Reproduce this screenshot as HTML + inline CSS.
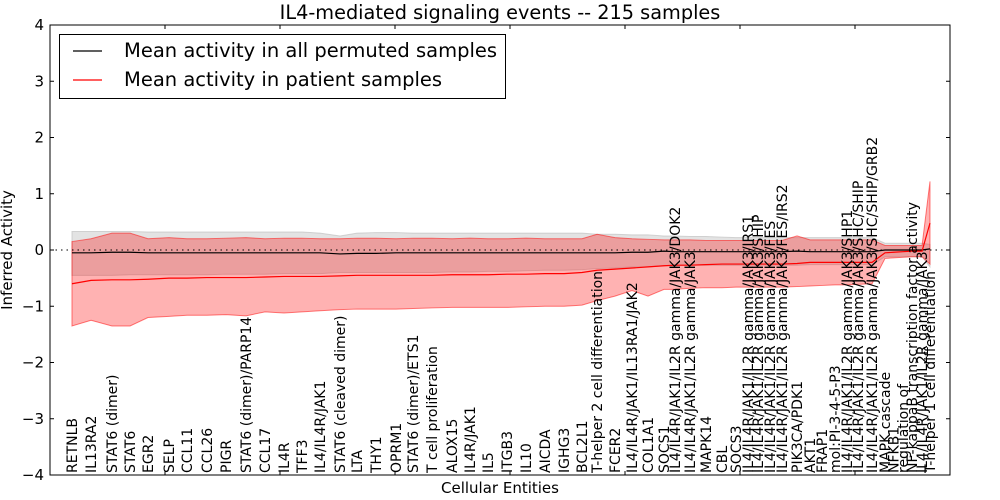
<!DOCTYPE html>
<html><head><meta charset="utf-8"><style>
html,body{margin:0;padding:0;background:#fff;}
svg{display:block;font-family:"DejaVu Sans","Liberation Sans",sans-serif;}
</style></head><body>
<svg id="chart" width="1000" height="500" xmlns="http://www.w3.org/2000/svg"></svg>
<script>
const labels=["RETNLB","IL13RA2","STAT6 (dimer)","STAT6","EGR2","SELP","CCL11","CCL26","PIGR","STAT6 (dimer)/PARP14","CCL17","IL4R","TFF3","IL4/IL4R/JAK1","STAT6 (cleaved dimer)","LTA","THY1","OPRM1","STAT6 (dimer)/ETS1","T cell proliferation","ALOX15","IL4R/JAK1","IL5","ITGB3","IL10","AICDA","IGHG3","BCL2L1","T-helper 2 cell differentiation","FCER2","IL4/IL4R/JAK1/IL13RA1/JAK2","COL1A1","SOCS1","IL4/IL4R/JAK1/IL2R gamma/JAK3/DOK2","IL4/IL4R/JAK1/IL2R gamma/JAK3","MAPK14","CBL","SOCS3","IL4/IL4R/JAK1/IL2R gamma/JAK3/IRS1","IL4/IL4R/JAK1/IL2R gamma/JAK3/SHIP","IL4/IL4R/JAK1/IL2R gamma/JAK3/FES","IL4/IL4R/JAK1/IL2R gamma/JAK3/FES/IRS2","PIK3CA/PDK1","AKT1","FRAP1","mol:PI-3-4-5-P3","IL4/IL4R/JAK1/IL2R gamma/JAK3/SHP1","IL4/IL4R/JAK1/IL2R gamma/JAK3/SHC/SHIP","IL4/IL4R/JAK1/IL2R gamma/JAK3/SHC/SHIP/GRB2","MAPK cascade","NFKB1","regulation of","NF-kappaB transcription factor activity","IL4/IL4R/JAK1/IL2R gamma/JAK3","T-helper 1 cell differentiation"];
const xVals=[1.91,3.57,5.39,6.96,8.52,10.35,11.91,13.65,15.30,17.04,18.70,20.35,21.91,23.48,25.22,26.70,28.35,30.09,31.57,33.22,34.96,36.52,38.09,39.74,41.39,43.04,44.70,46.26,47.57,49.13,50.61,52.00,53.39,54.35,55.65,57.04,58.43,59.65,60.70,61.57,62.61,63.65,64.96,66.09,67.13,68.26,69.30,70.26,71.48,72.61,73.35,74.17,74.96,75.83,76.52];
const permMean=[-0.05,-0.05,-0.04,-0.04,-0.05,-0.05,-0.05,-0.05,-0.05,-0.05,-0.05,-0.05,-0.05,-0.05,-0.07,-0.06,-0.06,-0.05,-0.05,-0.05,-0.05,-0.05,-0.05,-0.05,-0.05,-0.05,-0.05,-0.05,-0.05,-0.05,-0.04,-0.04,-0.02,-0.03,-0.03,-0.03,-0.03,-0.03,-0.03,-0.03,-0.03,-0.03,-0.02,-0.03,-0.03,-0.03,-0.03,-0.03,-0.03,0.0,0.0,0.0,0.0,0.0,0.02];
const permHi=[0.33,0.33,0.33,0.33,0.32,0.32,0.32,0.32,0.32,0.32,0.32,0.32,0.32,0.30,0.25,0.30,0.31,0.31,0.30,0.30,0.30,0.30,0.30,0.30,0.30,0.30,0.30,0.30,0.28,0.28,0.27,0.27,0.25,0.25,0.24,0.24,0.23,0.22,0.22,0.22,0.22,0.22,0.22,0.22,0.22,0.22,0.22,0.22,0.22,0.12,0.12,0.12,0.12,0.12,0.10];
const permLo=[-0.45,-0.45,-0.45,-0.44,-0.44,-0.44,-0.44,-0.44,-0.43,-0.43,-0.43,-0.42,-0.42,-0.42,-0.40,-0.40,-0.40,-0.40,-0.40,-0.40,-0.39,-0.39,-0.38,-0.38,-0.37,-0.36,-0.36,-0.35,-0.33,-0.32,-0.30,-0.30,-0.28,-0.28,-0.27,-0.27,-0.27,-0.27,-0.27,-0.27,-0.27,-0.27,-0.27,-0.26,-0.26,-0.26,-0.26,-0.26,-0.26,-0.12,-0.12,-0.12,-0.12,-0.12,-0.30];
const patMean=[-0.60,-0.54,-0.53,-0.53,-0.52,-0.50,-0.50,-0.49,-0.49,-0.49,-0.48,-0.47,-0.47,-0.47,-0.46,-0.45,-0.45,-0.45,-0.45,-0.45,-0.44,-0.44,-0.44,-0.43,-0.43,-0.42,-0.42,-0.40,-0.36,-0.34,-0.32,-0.30,-0.28,-0.27,-0.27,-0.26,-0.25,-0.25,-0.25,-0.25,-0.25,-0.25,-0.24,-0.22,-0.22,-0.22,-0.22,-0.22,-0.22,-0.05,-0.04,-0.03,-0.02,-0.02,0.48];
const patHi=[0.15,0.20,0.30,0.30,0.20,0.22,0.20,0.20,0.21,0.22,0.20,0.21,0.21,0.20,0.20,0.21,0.21,0.20,0.21,0.21,0.20,0.21,0.20,0.20,0.21,0.20,0.20,0.20,0.28,0.22,0.20,0.19,0.18,0.18,0.18,0.17,0.17,0.17,0.17,0.17,0.17,0.17,0.25,0.18,0.18,0.18,0.18,0.18,0.18,0.08,0.08,0.08,0.08,0.08,1.22];
const patLo=[-1.35,-1.25,-1.35,-1.35,-1.20,-1.18,-1.16,-1.16,-1.15,-1.17,-1.10,-1.12,-1.10,-1.08,-1.06,-1.05,-1.05,-1.05,-1.04,-1.03,-1.02,-1.02,-1.02,-1.02,-1.01,-1.00,-1.00,-0.98,-0.90,-0.82,-0.72,-0.82,-0.70,-0.70,-0.68,-0.67,-0.67,-0.66,-0.66,-0.66,-0.66,-0.66,-0.65,-0.64,-0.63,-0.62,-0.62,-0.61,-0.60,-0.15,-0.14,-0.13,-0.12,-0.12,-0.25];
const yTicks=[-4,-3,-2,-1,0,1,2,3,4];
const xTicks=[0,10,20,30,40,50,60,70];

const NS="http://www.w3.org/2000/svg";
const svg=document.getElementById('chart');
const L=50,R=950,T=25,B=475;
const xs=v=>L+v/78.26*(R-L);
const ys=v=>T+(4-v)/8*(B-T);
function mk(tag,attrs,parent){const e=document.createElementNS(NS,tag);for(const k in attrs)e.setAttribute(k,attrs[k]);(parent||svg).appendChild(e);return e;}
function band(lo,hi,fill,op,name){
  let d="M"+xVals.map((x,i)=>xs(x)+","+ys(hi[i])).join("L");
  for(let i=xVals.length-1;i>=0;i--)d+="L"+xs(xVals[i])+","+ys(lo[i]);
  const p=mk('path',{d:d+"Z",fill:fill,'fill-opacity':op,stroke:fill,'stroke-opacity':0.5,'stroke-width':1});
  
  
}
function line(v,col,name){
  const p=mk('polyline',{points:xVals.map((x,i)=>xs(x)+","+ys(v[i])).join(" "),fill:'none',stroke:col,'stroke-width':1.2});
  
  
}
band(permLo,permHi,'#b0b0b0',0.35,'permuted-band');
band(patLo,patHi,'#ff0000',0.3,'patient-band');
const zl=mk('line',{x1:L,x2:R,y1:ys(0),y2:ys(0),stroke:'#000','stroke-dasharray':'1.5,4','stroke-width':1});


line(permMean,'#000','permuted-mean-line');
line(patMean,'#ff0000','patient-mean-line');
const fr=mk('rect',{x:L,y:T,width:R-L,height:B-T,fill:'none',stroke:'#000','stroke-width':1});


yTicks.forEach(v=>{
  const y=ys(v);
  mk('line',{x1:L,x2:L+4,y1:y,y2:y,stroke:'#000'});
  mk('line',{x1:R,x2:R-4,y1:y,y2:y,stroke:'#000'});
  const t=mk('text',{x:L-6,y:y+5,'text-anchor':'end','font-size':15});
  t.textContent=v<0?"\u2212"+(-v):String(v);
  
  
});
xTicks.forEach(v=>{
  const x=xs(v);
  mk('line',{x1:x,x2:x,y1:T,y2:T+4,stroke:'#000'});
  mk('line',{x1:x,x2:x,y1:B,y2:B-4,stroke:'#000'});
});
labels.forEach((s,i)=>{
  const x=xs(xVals[i])+5;
  const t=mk('text',{x:0,y:0,transform:`translate(${x},473) rotate(-90)`,'font-size':14});
  t.textContent=s;
  
  
});
let t=mk('text',{x:500,y:19,'text-anchor':'middle','font-size':19.3});
t.textContent="IL4-mediated signaling events -- 215 samples";


t=mk('text',{x:500,y:493,'text-anchor':'middle','font-size':15});
t.textContent="Cellular Entities";


t=mk('text',{x:0,y:0,transform:'translate(12,250) rotate(-90)','text-anchor':'middle','font-size':15});
t.textContent="Inferred Activity";


const lg=mk('g',{});


mk('rect',{x:59.5,y:34.5,width:446,height:64,fill:'#fff',stroke:'#000'},lg);
[["#000","Mean activity in all permuted samples",51],["#ff0000","Mean activity in patient samples",80]].forEach(([c,s,y])=>{
  const g=mk('g',{},lg);
  
  
  mk('line',{x1:73,x2:102,y1:y,y2:y,stroke:c,'stroke-width':1.2},g);
  const tx=mk('text',{x:124,y:y+6,'font-size':19.5},g);
  tx.textContent=s;
});
</script>
</body></html>
